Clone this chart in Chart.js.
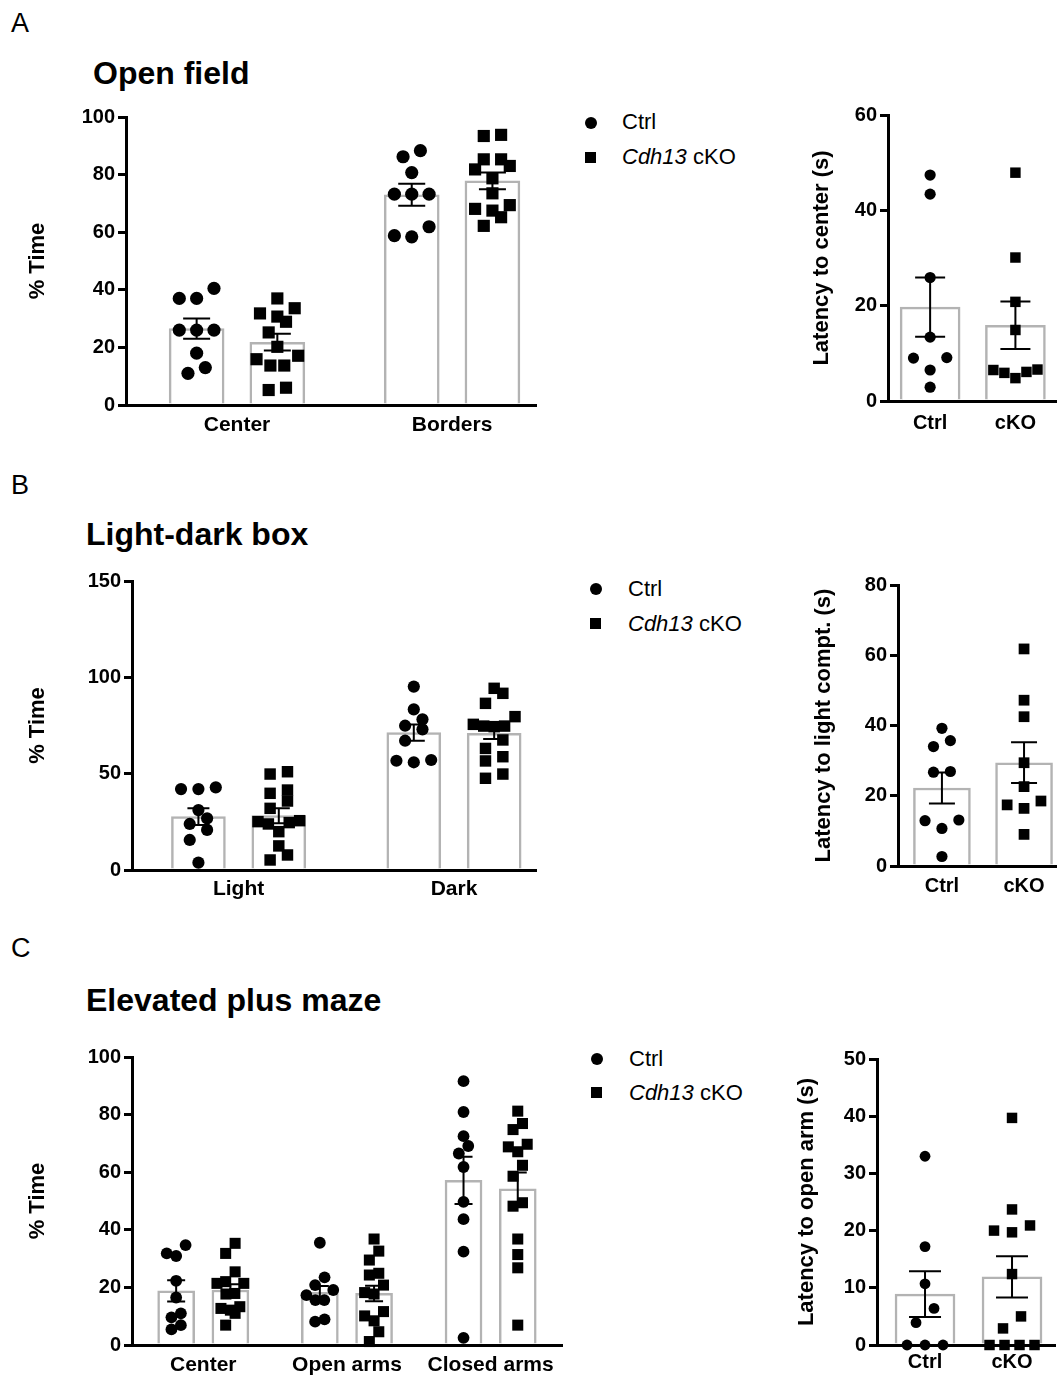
<!DOCTYPE html>
<html>
<head>
<meta charset="utf-8">
<script src="https://cdn.jsdelivr.net/npm/chart.js@4.4.1/dist/chart.umd.min.js"></script>
<style>
  html, body { margin: 0; padding: 0; background: #fff; }
  body { width: 1064px; height: 1376px; position: relative; overflow: hidden;
         font-family: 'Liberation Sans', Arial, sans-serif; color: #000; }
  .t { position: absolute; line-height: 1; white-space: nowrap; }
  .b { font-weight: bold; }
  canvas { position: absolute; }
  .dot { position: absolute; width: 12px; height: 12px; border-radius: 50%; background: #000; }
  .sq { position: absolute; width: 11px; height: 11px; background: #000; }
</style>
</head>
<body>
<!-- panel letters and titles -->
<div class="t" style="left:11px;top:10px;font-size:27px">A</div>
<div class="t b" style="left:93px;top:57px;font-size:32px">Open field</div>
<div class="t" style="left:11px;top:472px;font-size:27px">B</div>
<div class="t b" style="left:86px;top:518px;font-size:32px">Light-dark box</div>
<div class="t" style="left:11px;top:935px;font-size:27px">C</div>
<div class="t b" style="left:86px;top:984px;font-size:32px">Elevated plus maze</div>

<!-- legends -->
<div class="dot" style="left:585px;top:117px"></div>
<div class="t" style="left:622px;top:111px;font-size:22px">Ctrl</div>
<div class="sq" style="left:585px;top:152px"></div>
<div class="t" style="left:622px;top:146px;font-size:22px"><i>Cdh13</i> cKO</div>

<div class="dot" style="left:590px;top:583px"></div>
<div class="t" style="left:628px;top:578px;font-size:22px">Ctrl</div>
<div class="sq" style="left:590px;top:618px"></div>
<div class="t" style="left:628px;top:613px;font-size:22px"><i>Cdh13</i> cKO</div>

<div class="dot" style="left:591px;top:1053px"></div>
<div class="t" style="left:629px;top:1048px;font-size:22px">Ctrl</div>
<div class="sq" style="left:591px;top:1087px"></div>
<div class="t" style="left:629px;top:1082px;font-size:22px"><i>Cdh13</i> cKO</div>

<canvas id="ofMain"></canvas>
<canvas id="ofLat"></canvas>
<canvas id="ldMain"></canvas>
<canvas id="ldLat"></canvas>
<canvas id="epmMain"></canvas>
<canvas id="epmLat"></canvas>

<script>
// ---- A : open field ----
const ofGroups = ['Center', 'Borders'];
const ofCtrlMean = [26.5, 73.0];
const ofCtrlSem = [3.5, 3.8];
const ofCkoMean = [21.8, 77.8];
const ofCkoSem = [2.9, 2.9];
const ofCtrlPts = [
  [37, 37, 40.5, 26, 26, 26, 18, 11, 13],
  [88.3, 86.2, 80.7, 73.2, 73.2, 73.2, 61.9, 58.4, 58.8]
];
const ofCkoPts = [
  [33.6, 37, 31.8, 30.7, 28.9, 25.2, 20.2, 17.1, 15.9, 13.7, 13.7, 5.2, 6.0],
  [93.4, 93.8, 85.3, 85.3, 83, 81.8, 78.7, 73.5, 69.4, 67.5, 68.1, 65.2, 62.2]
];
const latLabels = ['Ctrl', 'cKO'];
const ofLatMean = [19.7, 15.9];
const ofLatSem = [6.2, 5.0];
const ofLatCtrl = [47.4, 43.4, 25.9, 13.4, 9.0, 9.1, 6.5, 2.9];
const ofLatCko = [47.9, 30.1, 20.8, 14.9, 6.5, 6.1, 4.8, 5.9, 6.6];

// ---- B : light-dark box ----
const ldGroups = ['Light', 'Dark'];
const ldCtrlMean = [27.7, 71.3];
const ldCtrlSem = [4.3, 4.2];
const ldCkoMean = [28.2, 71.0];
const ldCkoSem = [3.9, 3.0];
const ldCtrlPts = [
  [42.0, 42.0, 42.9, 31.1, 26.8, 23.9, 20.8, 15.6, 3.8],
  [95.2, 83.4, 78.2, 73.0, 74.9, 67.1, 57.1, 55.9, 56.7]
];
const ldCkoPts = [
  [49.8, 51.0, 39.8, 41.5, 35.8, 32.0, 25.1, 23.9, 19.9, 24.6, 25.6, 12.5, 5.2, 7.8],
  [91.7, 94.3, 86.5, 79.6, 74.7, 74.4, 74.7, 75.6, 63.1, 67.5, 56.6, 58.8, 49.8, 47.6]
];
const ldLatMean = [22.2, 29.4];
const ldLatSem = [4.4, 5.8];
const ldLatCtrl = [39.2, 35.7, 34.0, 26.7, 26.9, 12.9, 13.1, 10.7, 2.7];
const ldLatCko = [61.8, 47.2, 42.5, 29.4, 22.6, 17.4, 16.4, 18.5, 9.0];

// ---- C : elevated plus maze ----
const epmGroups = ['Center', 'Open arms', 'Closed arms'];
const epmCtrlMean = [18.8, 18.3, 57.2];
const epmCtrlSem = [3.7, 2.2, 8.2];
const epmCkoMean = [19.1, 17.9, 54.2];
const epmCkoSem = [2.0, 2.7, 5.7];
const epmCtrlPts = [
  [31.8, 30.9, 34.7, 22.3, 16.5, 9.6, 11.0, 6.9, 5.4],
  [35.5, 20.8, 23.5, 19.1, 15.6, 15.6, 17.3, 8.1, 8.9],
  [91.6, 80.9, 72.5, 69.1, 66.5, 61.8, 49.7, 43.7, 32.4, 2.5]
];
const epmCkoPts = [
  [35.3, 31.8, 25.4, 21.4, 21.4, 22.0, 17.9, 17.7, 13.3, 12.1, 12.7, 11.0, 6.9],
  [36.8, 32.6, 29.5, 24.3, 24.9, 20.8, 18.2, 17.7, 11.6, 10.1, 8.4, 4.6, 1.2],
  [81.2, 76.9, 74.8, 68.8, 69.7, 67.1, 62.4, 58.6, 49.4, 48.2, 36.8, 31.4, 26.8, 6.9]
];
const epmLatMean = [8.9, 11.9];
const epmLatSem = [4.0, 3.6];
const epmLatCtrl = [33.0, 17.2, 10.7, 6.4, 3.9, 0, 0, 0];
const epmLatCko = [39.7, 23.7, 20.0, 19.7, 20.9, 12.4, 5.0, 2.9, 0, 0, 0, 0];

Chart.defaults.font.family = "'Liberation Sans', Arial, sans-serif";
Chart.defaults.color = '#000';

// two genotypes side by side inside each group
function mainSeries(groups, cMean, cSem, cPts, kMean, kSem, kPts, off) {
  return [
    { style: 'circle', bars: groups.map((g, i) => ({ x: i - off, mean: cMean[i], sem: cSem[i], pts: cPts[i] })) },
    { style: 'rect', bars: groups.map((g, i) => ({ x: i + off, mean: kMean[i], sem: kSem[i], pts: kPts[i] })) }
  ];
}
function latSeries(mean, sem, cPts, kPts) {
  return [
    { style: 'circle', bars: [{ x: 0, mean: mean[0], sem: sem[0], pts: cPts }] },
    { style: 'rect', bars: [{ x: 1, mean: mean[1], sem: sem[1], pts: kPts }] }
  ];
}

// mean +/- SEM whiskers
function semPlugin(items, cap) {
  return {
    id: 'semBars',
    afterDatasetsDraw(chart) {
      const { ctx, scales: { x, y } } = chart;
      ctx.save();
      ctx.strokeStyle = '#000';
      ctx.lineWidth = 2;
      items.forEach(b => {
        const px = x.getPixelForValue(b.x);
        const top = y.getPixelForValue(b.mean + b.sem);
        const bot = y.getPixelForValue(b.mean - b.sem);
        ctx.beginPath();
        ctx.moveTo(px, top); ctx.lineTo(px, bot);
        ctx.moveTo(px - cap, top); ctx.lineTo(px + cap, top);
        ctx.moveTo(px - cap, bot); ctx.lineTo(px + cap, bot);
        ctx.stroke();
      });
      ctx.restore();
    }
  };
}

// simple row-based beeswarm, done in pixel space once the scales exist
function placePoints(chart, p) {
  const xs = chart.scales.x, ys = chart.scales.y;
  const xPerPx = (xs.max - xs.min) / xs.width;
  p.series.forEach((s, si) => {
    const data = [];
    s.bars.forEach(b => {
      const order = b.pts.map((v, k) => k).sort((a, c) => b.pts[a] - b.pts[c]);
      const rows = [];
      let row = [];
      order.forEach(k => {
        if (row.length && ys.getPixelForValue(b.pts[row[0]]) - ys.getPixelForValue(b.pts[k]) > p.rowPx) {
          rows.push(row);
          row = [];
        }
        row.push(k);
      });
      if (row.length) rows.push(row);
      rows.forEach(r => {
        const n = r.length;
        const step = n > 1 ? Math.min(p.step, p.span / (n - 1)) : 0;
        const slots = [];
        for (let j = 0; j < n; j++) slots.push((j - (n - 1) / 2) * step);
        slots.sort((a, c) => Math.abs(a) - Math.abs(c) || a - c);
        r.forEach((k, j) => data.push({ x: b.x + slots[j] * xPerPx, y: b.pts[k] }));
      });
    });
    chart.data.datasets[si + 1].data = data;
  });
  chart.update('none');
}

function buildPanel(p) {
  const cv = document.getElementById(p.id);
  cv.width = p.w; cv.height = p.h;
  cv.style.left = p.left + 'px';
  cv.style.top = p.top + 'px';

  const bars = [];
  p.series.forEach(s => s.bars.forEach(b => bars.push(b)));

  const datasets = [{
    type: 'bar',
    order: 2,
    data: bars.map(b => ({ x: b.x, y: b.mean })),
    backgroundColor: '#ffffff',
    borderColor: '#b3b3b3',
    borderWidth: 2.5,
    barThickness: p.barPx
  }];
  p.series.forEach(s => datasets.push({
    type: 'scatter',
    order: 1,
    data: [],
    pointStyle: s.style,
    pointRadius: s.style === 'rect' ? p.rs : p.r,
    backgroundColor: '#000',
    borderWidth: 0,
    clip: false
  }));

  const chart = new Chart(cv, {
    type: 'bar',
    data: { datasets },
    plugins: [semPlugin(bars, p.cap)],
    options: {
      responsive: false,
      animation: false,
      events: [],
      layout: { padding: { top: p.padTop, right: p.padRight, left: 0, bottom: 0 } },
      plugins: { legend: { display: false }, tooltip: { enabled: false } },
      scales: {
        x: {
          type: 'linear',
          min: p.xMin,
          max: p.xMax,
          offset: false,
          grid: { display: false, drawTicks: false },
          border: { display: true, color: '#000', width: 3 },
          ticks: {
            font: { size: p.xFont, weight: 'bold' },
            color: '#000',
            padding: p.labelPad,
            maxRotation: 0,
            minRotation: 0,
            autoSkip: false,
            callback: v => p.groups[Math.round(v)]
          },
          afterBuildTicks: sc => { sc.ticks = p.groups.map((g, i) => ({ value: i })); },
          afterFit: sc => { sc.height = p.xH; }
        },
        y: {
          min: 0,
          max: p.yMax,
          ticks: { stepSize: p.yStep, font: { size: 20, weight: 'bold' }, color: '#000', padding: 3 },
          grid: { drawOnChartArea: false, drawTicks: true, tickLength: 8, color: '#000', lineWidth: 3 },
          border: { display: true, color: '#000', width: 3 },
          title: { display: true, text: p.yTitle, font: { size: 22, weight: 'bold' }, color: '#000', padding: 0 },
          afterFit: sc => { sc.width = p.yW; }
        }
      }
    }
  });
  placePoints(chart, p);
}

const panels = [
  { id: 'ofMain', left: 25, top: 95, w: 520, h: 350, padTop: 22, padRight: 5, yW: 101, xH: 40,
    xMin: -0.516, xMax: 1.392, yMax: 100, yStep: 20, yTitle: '% Time', groups: ofGroups, xFont: 21,
    series: mainSeries(ofGroups, ofCtrlMean, ofCtrlSem, ofCtrlPts, ofCkoMean, ofCkoSem, ofCkoPts, 0.1876),
    barPx: 55, r: 6.6, rs: 8.6, step: 17.5, span: 42, rowPx: 13, labelPad: 8, cap: 13.5 },
  { id: 'ofLat', left: 809, top: 95, w: 255, h: 346, padTop: 20, padRight: 4, yW: 79, xH: 40,
    xMin: -0.494, xMax: 1.483, yMax: 60, yStep: 20, yTitle: 'Latency to center (s)', groups: latLabels, xFont: 20,
    series: latSeries(ofLatMean, ofLatSem, ofLatCtrl, ofLatCko),
    barPx: 60, r: 5.6, rs: 7.4, step: 17, span: 45, rowPx: 13, labelPad: 10, cap: 15 },
  { id: 'ldMain', left: 25, top: 560, w: 520, h: 350, padTop: 21, padRight: 5, yW: 107, xH: 40,
    xMin: -0.495, xMax: 1.385, yMax: 150, yStep: 50, yTitle: '% Time', groups: ldGroups, xFont: 21,
    series: mainSeries(ldGroups, ldCtrlMean, ldCtrlSem, ldCtrlPts, ldCkoMean, ldCkoSem, ldCkoPts, 0.1866),
    barPx: 54, r: 6.1, rs: 8.1, step: 17.5, span: 42, rowPx: 12, labelPad: 7, cap: 11 },
  { id: 'ldLat', left: 811, top: 565, w: 253, h: 341, padTop: 20, padRight: 2, yW: 87, xH: 40,
    xMin: -0.535, xMax: 1.394, yMax: 80, yStep: 20, yTitle: 'Latency to light compt. (s)', groups: latLabels, xFont: 20,
    series: latSeries(ldLatMean, ldLatSem, ldLatCtrl, ldLatCko),
    barPx: 57, r: 5.6, rs: 7.6, step: 17.5, span: 45, rowPx: 12, labelPad: 8, cap: 13 },
  { id: 'epmMain', left: 25, top: 1036, w: 545, h: 340, padTop: 21, padRight: 5, yW: 107, xH: 31,
    xMin: -0.496, xMax: 2.498, yMax: 100, yStep: 20, yTitle: '% Time', groups: epmGroups, xFont: 21,
    series: mainSeries(epmGroups, epmCtrlMean, epmCtrlSem, epmCtrlPts, epmCkoMean, epmCkoSem, epmCkoPts, 0.1887),
    barPx: 37, r: 5.9, rs: 7.8, step: 9.5, span: 27, rowPx: 12, labelPad: 8, cap: 9 },
  { id: 'epmLat', left: 794, top: 1039, w: 270, h: 337, padTop: 20, padRight: 9, yW: 83, xH: 31,
    xMin: -0.552, xMax: 1.494, yMax: 50, yStep: 10, yTitle: 'Latency to open arm (s)', groups: latLabels, xFont: 20,
    series: latSeries(epmLatMean, epmLatSem, epmLatCtrl, epmLatCko),
    barPx: 60, r: 5.4, rs: 7.4, step: 18, span: 45, rowPx: 15, labelPad: 5, cap: 16 }
];

panels.forEach(buildPanel);
</script>
</body>
</html>
